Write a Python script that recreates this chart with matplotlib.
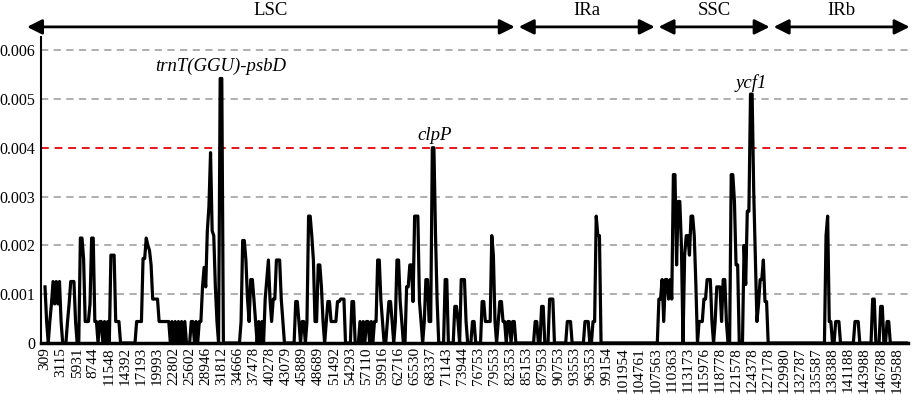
import numpy as np
import matplotlib.pyplot as plt

# nucleotide diversity (Pi) per sliding window, one row per labelled tick (10 windows)
pi_values = [
    0.00115, 0.00044, 0, 0.00044, 0.0008, 0.00126, 0.0008, 0.00126, 0.0008, 0.00126,
    0.00044, 0, 0, 0, 0.00044, 0.0008, 0.00126, 0.00126, 0.00126, 0.00044,
    0, 0, 0.00215, 0.00215, 0.00173, 0.00044, 0.00044, 0.00044, 0.0008, 0.00215,
    0.00215, 0.00044, 0.00044, 0, 0.00044, 0.00044, 0, 0.00044, 0, 0.00044,
    0, 0.0018, 0.0018, 0.0018, 0.00044, 0.00044, 0.00044, 0, 0, 0,
    0, 0, 0, 0, 0, 0, 0, 0.00044, 0.00044, 0.00044,
    0.00044, 0.00173, 0.00173, 0.00215, 0.002, 0.0019, 0.0016, 0.0009, 0.0009, 0.0009,
    0.0009, 0.00044, 0.00044, 0.00044, 0.00044, 0.00044, 0.00044, 0.00044, 0, 0.00044,
    0, 0.00044, 0, 0.00044, 0, 0.00044, 0, 0.00044, 0, 0,
    0, 0.00044, 0.00044, 0, 0.00044, 0, 0.00044, 0.00044, 0.00115, 0.00155,
    0.00115, 0.0023, 0.0028, 0.0039, 0.0023, 0.0022, 0.00115, 0.00044, 0, 0.00542,
    0.00542, 0, 0, 0, 0, 0, 0, 0, 0, 0,
    0, 0, 0.00044, 0.0021, 0.0021, 0.0017, 0.0009, 0.00044, 0.0013, 0.0013,
    0.0009, 0.00044, 0, 0.00044, 0, 0.00044, 0, 0.0009, 0.0013, 0.0017,
    0.0009, 0.00044, 0.0009, 0.0009, 0.0017, 0.0017, 0.0017, 0.0009, 0.00044, 0,
    0, 0, 0, 0, 0, 0, 0.00085, 0.00085, 0.00044, 0,
    0.00044, 0.00044, 0, 0.00044, 0.0026, 0.0026, 0.0022, 0.0017, 0.00044, 0.00044,
    0.0016, 0.0016, 0.00115, 0.00044, 0, 0.00044, 0.00085, 0.00085, 0.00044, 0.00044,
    0.00044, 0.00044, 0.00085, 0.00085, 0.0009, 0.0009, 0.0009, 0, 0, 0,
    0, 0.00085, 0.00085, 0, 0, 0, 0.00044, 0, 0.00044, 0,
    0.00044, 0.00044, 0, 0.00044, 0, 0.00044, 0.00044, 0.0017, 0.0017, 0.00088,
    0.00044, 0, 0, 0.00044, 0.00085, 0.00085, 0.00044, 0, 0.00044, 0.0017,
    0.0017, 0.00085, 0.00044, 0, 0, 0.00115, 0.00115, 0.0016, 0.0016, 0.00085,
    0.0026, 0.0026, 0.0026, 0.00085, 0.00044, 0, 0.00044, 0.0013, 0.0013, 0.00044,
    0.00044, 0.004, 0.004, 0.0022, 0.00085, 0, 0, 0, 0, 0.0013,
    0.0013, 0, 0, 0, 0, 0.00075, 0.00075, 0.00044, 0, 0.0013,
    0.0013, 0.0013, 0.00044, 0, 0, 0, 0.00044, 0.00044, 0, 0,
    0, 0, 0.00085, 0.00085, 0.00044, 0.00044, 0.00044, 0.00044, 0.0022, 0.0018,
    0.00044, 0, 0.00044, 0.00085, 0.00085, 0.00044, 0.00044, 0, 0.00044, 0.00044,
    0, 0.00044, 0.00044, 0, 0, 0, 0, 0, 0, 0,
    0, 0, 0, 0, 0, 0.00044, 0.00044, 0, 0, 0.00075,
    0.00075, 0, 0, 0, 0.0009, 0.0009, 0.0009, 0, 0, 0,
    0, 0, 0, 0, 0, 0.00044, 0.00044, 0.00044, 0, 0,
    0, 0, 0, 0, 0, 0, 0.00044, 0.00044, 0.00044, 0,
    0, 0.00044, 0.00044, 0.0026, 0.0022, 0.0022, 0, 0, 0, 0,
    0, 0, 0, 0, 0, 0, 0, 0, 0, 0,
    0, 0, 0, 0, 0, 0, 0, 0, 0, 0,
    0, 0, 0, 0, 0, 0, 0, 0, 0, 0,
    0, 0, 0.0009, 0.0009, 0.0013, 0.00044, 0.0013, 0.0013, 0.0009, 0.0013,
    0.0009, 0.00345, 0.00345, 0.0016, 0.0029, 0.0029, 0.002, 0, 0.0018, 0.0022,
    0.0022, 0.0018, 0.0026, 0.0026, 0.0022, 0.0012, 0, 0.00044, 0.00044, 0.00044,
    0.0009, 0.0009, 0.0013, 0.0013, 0.0013, 0.00044, 0, 0.00044, 0.00115, 0.00115,
    0.00115, 0.00044, 0.0013, 0.0013, 0.00044, 0, 0, 0.00345, 0.00345, 0.0029,
    0.0016, 0.0016, 0, 0, 0, 0.002, 0.0012, 0.0027, 0.0027, 0.0051,
    0.0051, 0.0031, 0.0018, 0.00044, 0.0008, 0.0013, 0.0013, 0.0017, 0.00085, 0.00085,
    0, 0, 0, 0, 0, 0, 0, 0, 0, 0,
    0, 0, 0, 0, 0, 0, 0, 0, 0, 0,
    0, 0, 0, 0, 0, 0, 0, 0, 0, 0,
    0, 0, 0, 0, 0, 0, 0.0022, 0.0026, 0.00044, 0.00044,
    0, 0, 0.00044, 0.00044, 0.00044, 0, 0, 0, 0, 0,
    0, 0, 0, 0, 0.00044, 0.00044, 0.00044, 0, 0, 0,
    0, 0, 0, 0, 0, 0.0009, 0.0009, 0, 0, 0,
    0.00075, 0.00075, 0, 0, 0.00044, 0.00044, 0, 0, 0, 0,
    0, 0, 0, 0, 0, 0, 0, 0,
]

tick_labels = ["309", "3115", "5931", "8744", "11548", "14392", "17193", "19993",
               "22802", "25602", "28946", "31812", "34666", "37478", "40278", "43079",
               "45889", "48689", "51492", "54293", "57110", "59916", "62716", "65530",
               "68337", "71143", "73944", "76753", "79553", "82353", "85153", "87953",
               "90753", "93553", "96353", "99154", "101954", "104761", "107563", "110363",
               "113173", "115976", "118778", "121578", "124378", "127178", "129980",
               "132787", "135587", "138388", "141188", "143988", "146788", "149588"]

# regions as window index ranges (start, end) and labels
regions = ["LSC", "IRa", "SSC", "IRb"]
region_bounds = [(-11.2, 292.3), (294.8, 379.4), (381.8, 450.9), (453.4, 538.0)]

# hotspot labels: (text, window index, Pi)
hotspots = [("trnT(GGU)-psbD", 109.5, 0.00566),
            ("clpP", 242.5, 0.00426),
            ("ycf1", 439.5, 0.00532)]

plt.rcParams['font.family'] = ['Liberation Serif', 'DejaVu Serif']

fig = plt.figure(figsize=(9.13, 3.95), dpi=100)
ax = fig.add_axes([41 / 913, 1 - 343 / 395, (908 - 41) / 913, (343 - 37) / 395])

# dashed reference lines
for y in [0.001, 0.002, 0.003, 0.005, 0.006]:
    ax.axhline(y, color='#a8a8a8', ls=(0, (4, 3)), lw=1.3, zorder=0)
ax.axhline(0.004, color='#e8141c', ls=(0, (4, 3)), lw=1.4, zorder=1)

x = np.arange(len(pi_values))
ax.plot(x, pi_values, color='black', lw=2.3, zorder=3)

ax.set_xlim(-2.5, 537)
ax.set_ylim(0, 0.00627)

ax.set_yticks([0, 0.001, 0.002, 0.003, 0.004, 0.005, 0.006])
ax.set_yticklabels(['0', '0.001', '0.002', '0.003', '0.004', '0.005', '0.006'], fontsize=11.5)
ax.set_xticks(np.arange(0, len(tick_labels) * 10, 10))
ax.set_xticklabels(tick_labels, rotation=90, fontsize=11)
ax.tick_params(axis='y', length=0, pad=4)
ax.tick_params(axis='x', length=0, pad=3)

for side in ['top', 'right']:
    ax.spines[side].set_visible(False)
ax.spines['left'].set_linewidth(1.5)
ax.spines['bottom'].set_linewidth(2.5)

# region arrows along the top
trans = ax.get_xaxis_transform()
for name, (start, end) in zip(regions, region_bounds):
    ax.annotate('', xy=(end, 1.033), xytext=(start, 1.033), xycoords=trans,
                textcoords=trans, annotation_clip=False,
                arrowprops=dict(arrowstyle='<|-|>,head_length=0.9,head_width=0.45',
                                color='black', lw=2, shrinkA=0, shrinkB=0))
    ax.text((start + end) / 2, 1.085, name, transform=trans, ha='center',
            va='center', fontsize=13.5)

for text, xi, yv in hotspots:
    ax.text(xi, yv, text, ha='center', va='center', fontsize=13.5, style='italic')

plt.savefig("out.png", dpi=100)
